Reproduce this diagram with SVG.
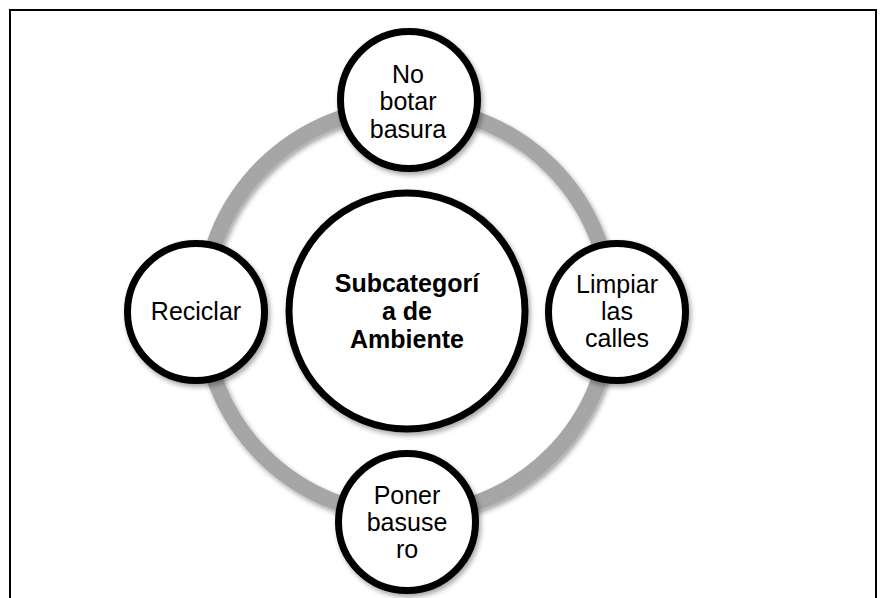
<svg xmlns="http://www.w3.org/2000/svg" width="886" height="598" viewBox="0 0 886 598">
  <defs>
    <filter id="sh" x="-20%" y="-20%" width="140%" height="140%">
      <feDropShadow dx="2" dy="3" stdDeviation="2.5" flood-color="#000" flood-opacity="0.35"/>
    </filter>
    <style>
      .frame { fill: none; stroke: #000; stroke-width: 2; }
      .ring { fill: none; stroke: #a6a6a6; stroke-width: 16; }
      .node { fill: #fff; stroke: #000; stroke-width: 7; filter: url(#sh); }
      .t { font-family: "Liberation Sans", Arial, sans-serif; font-size: 25px; fill: #000; text-anchor: middle; }
      .tb { font-family: "Liberation Sans", Arial, sans-serif; font-size: 25px; font-weight: bold; fill: #000; text-anchor: middle; }
    </style>
  </defs>
  <rect width="886" height="598" fill="#fff"/>
  <path class="frame" d="M10 598 V10 H876 V598"/>

  <g id="connectors">
    <circle class="ring" cx="407" cy="311" r="204" filter="url(#sh)"/>
  </g>

  <g id="center">
    <circle class="node" cx="407" cy="311" r="118"/>
    <text class="tb" x="407" y="292">Subcategorí</text>
    <text class="tb" x="407" y="320">a de</text>
    <text class="tb" x="407" y="348">Ambiente</text>
  </g>

  <g id="top">
    <circle class="node" cx="409" cy="100" r="68.5"/>
    <text class="t" x="408" y="83">No</text>
    <text class="t" x="408" y="110">botar</text>
    <text class="t" x="408" y="138">basura</text>
  </g>

  <g id="right">
    <circle class="node" cx="617" cy="312" r="68.5"/>
    <text class="t" x="617" y="293">Limpiar</text>
    <text class="t" x="617" y="320">las</text>
    <text class="t" x="617" y="347">calles</text>
  </g>

  <g id="bottom">
    <circle class="node" cx="407" cy="522" r="68.5"/>
    <text class="t" x="407" y="504">Poner</text>
    <text class="t" x="407" y="531">basuse</text>
    <text class="t" x="407" y="558">ro</text>
  </g>

  <g id="left">
    <circle class="node" cx="196" cy="312" r="68.5"/>
    <text class="t" x="196" y="320">Reciclar</text>
  </g>
</svg>
